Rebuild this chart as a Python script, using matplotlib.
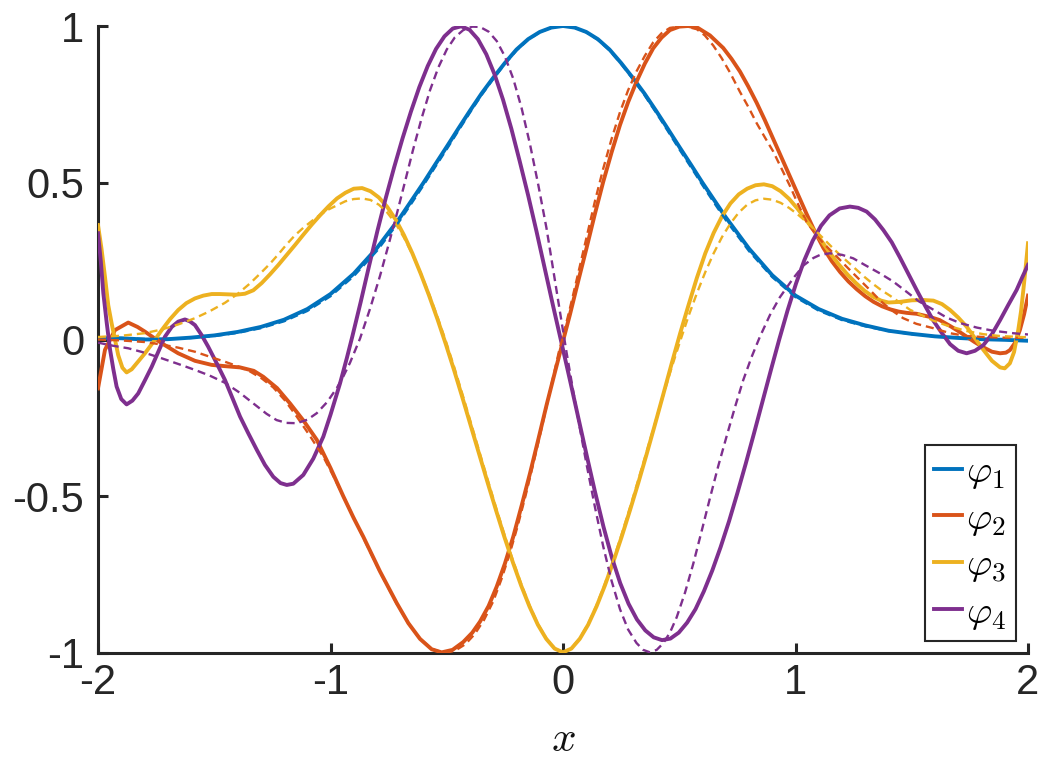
import matplotlib
matplotlib.use('Agg')
import matplotlib.pyplot as plt

plt.rcParams['mathtext.fontset'] = 'cm'
plt.rcParams['font.family'] = ['Liberation Sans', 'DejaVu Sans']

# ---------------- data: (x, value) pairs ----------------
phi1_pts = [(-2.0, 0.004), (-1.9, 0.004), (-1.8, 0.0), (-1.7, 0.001), (-1.6, 0.006), (-1.5, 0.013),
            (-1.4, 0.024), (-1.3, 0.040), (-1.2, 0.063), (-1.1, 0.097), (-1.0, 0.145), (-0.9, 0.21),
            (-0.8, 0.292), (-0.7, 0.39), (-0.65, 0.445), (-0.6, 0.50), (-0.55, 0.558), (-0.5, 0.615),
            (-0.45, 0.673), (-0.4, 0.73), (-0.35, 0.785), (-0.3, 0.835), (-0.25, 0.882), (-0.2, 0.925),
            (-0.15, 0.958), (-0.1, 0.981), (-0.05, 0.995), (0.0, 1.0), (0.05, 0.995), (0.1, 0.981),
            (0.15, 0.958), (0.2, 0.925), (0.25, 0.882), (0.3, 0.835), (0.35, 0.785), (0.4, 0.73),
            (0.45, 0.673), (0.5, 0.615), (0.55, 0.558), (0.6, 0.50), (0.65, 0.445), (0.7, 0.39),
            (0.8, 0.29), (0.9, 0.205), (1.0, 0.14), (1.1, 0.097), (1.2, 0.066), (1.3, 0.045), (1.4, 0.028),
            (1.5, 0.018), (1.6, 0.01), (1.7, 0.005), (1.8, 0.001), (1.9, -0.001), (2.0, -0.004)]

phi1_dash_pts = [(-2.0, 0.006), (-1.9, 0.004), (-1.8, 0.002), (-1.7, 0.002), (-1.6, 0.005), (-1.5, 0.011),
                 (-1.4, 0.021), (-1.3, 0.036), (-1.2, 0.058), (-1.1, 0.091), (-1.0, 0.138), (-0.9, 0.202),
                 (-0.8, 0.283), (-0.7, 0.381), (-0.65, 0.436), (-0.6, 0.492), (-0.55, 0.55), (-0.5, 0.607),
                 (-0.45, 0.666), (-0.4, 0.724), (-0.35, 0.78), (-0.3, 0.831), (-0.25, 0.879), (-0.2, 0.922),
                 (-0.15, 0.956), (-0.1, 0.98), (-0.05, 0.995), (0.0, 1.0), (0.05, 0.995), (0.1, 0.98),
                 (0.15, 0.956), (0.2, 0.922), (0.25, 0.879), (0.3, 0.831), (0.35, 0.78), (0.4, 0.724),
                 (0.45, 0.666), (0.5, 0.607), (0.55, 0.55), (0.6, 0.492), (0.65, 0.436), (0.7, 0.381),
                 (0.8, 0.282), (0.9, 0.199), (1.0, 0.135), (1.1, 0.092), (1.2, 0.062), (1.3, 0.042), (1.4, 0.027),
                 (1.5, 0.017), (1.6, 0.010), (1.7, 0.006), (1.8, 0.003), (1.9, 0.001), (2.0, 0.0)]

phi2_pts = [(-2.0, -0.156), (-1.97, -0.033), (-1.927, 0.03), (-1.87, 0.054), (-1.83, 0.04), (-1.798, 0.025),
            (-1.726, -0.012), (-1.655, -0.044), (-1.583, -0.068), (-1.511, -0.081), (-1.454, -0.085),
            (-1.389, -0.089), (-1.33, -0.10), (-1.289, -0.119), (-1.23, -0.155), (-1.174, -0.204),
            (-1.115, -0.26), (-1.059, -0.32), (-1.0, -0.41), (-0.945, -0.50), (-0.90, -0.57), (-0.859, -0.629),
            (-0.787, -0.74), (-0.715, -0.841), (-0.665, -0.905), (-0.615, -0.955), (-0.565, -0.988),
            (-0.522, -0.998), (-0.475, -0.99), (-0.429, -0.965), (-0.39, -0.935), (-0.357, -0.90), (-0.32, -0.85),
            (-0.285, -0.788), (-0.25, -0.715), (-0.214, -0.629), (-0.178, -0.53), (-0.142, -0.427),
            (-0.106, -0.318), (-0.07, -0.207), (-0.035, -0.105), (0.0, -0.005), (0.03, 0.08), (0.065, 0.185),
            (0.101, 0.291), (0.137, 0.40), (0.173, 0.503), (0.209, 0.597), (0.245, 0.684), (0.28, 0.757),
            (0.316, 0.822), (0.352, 0.88), (0.388, 0.929), (0.424, 0.963), (0.46, 0.987), (0.50, 0.998),
            (0.539, 1.0), (0.58, 0.994), (0.632, 0.97), (0.689, 0.93), (0.725, 0.895), (0.761, 0.855),
            (0.797, 0.807), (0.833, 0.755), (0.868, 0.70), (0.904, 0.64), (0.94, 0.58), (0.976, 0.52),
            (1.012, 0.46), (1.048, 0.40), (1.084, 0.343), (1.12, 0.292), (1.156, 0.25), (1.192, 0.215),
            (1.228, 0.185), (1.264, 0.16), (1.30, 0.138), (1.336, 0.12), (1.372, 0.106), (1.408, 0.096),
            (1.444, 0.089), (1.478, 0.085), (1.521, 0.082), (1.578, 0.072), (1.62, 0.062), (1.665, 0.043),
            (1.70, 0.027), (1.736, 0.009), (1.77, -0.008), (1.808, -0.025), (1.845, -0.039), (1.88, -0.044),
            (1.905, -0.042), (1.922, -0.034), (1.945, -0.01), (1.965, 0.03), (1.983, 0.08), (2.0, 0.14)]

phi2_dash_pts = [(-2.0, 0.0), (-1.9, -0.003), (-1.8, -0.008), (-1.726, -0.016), (-1.655, -0.026),
                 (-1.583, -0.039), (-1.519, -0.055), (-1.454, -0.071), (-1.40, -0.085), (-1.346, -0.102),
                 (-1.296, -0.124), (-1.246, -0.153), (-1.195, -0.195), (-1.145, -0.246), (-1.088, -0.308),
                 (-1.031, -0.374), (-0.988, -0.435), (-0.945, -0.50), (-0.90, -0.568), (-0.859, -0.632),
                 (-0.787, -0.742), (-0.715, -0.843), (-0.665, -0.906), (-0.615, -0.955), (-0.565, -0.987),
                 (-0.51, -1.0), (-0.465, -0.993), (-0.42, -0.972), (-0.38, -0.94), (-0.34, -0.895), (-0.30, -0.835),
                 (-0.265, -0.765), (-0.23, -0.685), (-0.195, -0.595), (-0.16, -0.495), (-0.124, -0.385),
                 (-0.088, -0.27), (-0.053, -0.155), (-0.018, -0.04), (0.0, 0.01), (0.03, 0.10), (0.065, 0.21),
                 (0.101, 0.325), (0.137, 0.44), (0.173, 0.545), (0.209, 0.64), (0.245, 0.725), (0.28, 0.795),
                 (0.316, 0.855), (0.352, 0.905), (0.388, 0.948), (0.424, 0.977), (0.46, 0.994), (0.52, 1.0),
                 (0.575, 0.99), (0.61, 0.97), (0.646, 0.938), (0.682, 0.898), (0.718, 0.852), (0.761, 0.79),
                 (0.797, 0.742), (0.833, 0.69), (0.868, 0.645), (0.904, 0.60), (0.94, 0.545), (0.976, 0.49),
                 (1.012, 0.43), (1.048, 0.375), (1.084, 0.338), (1.12, 0.307), (1.17, 0.27), (1.22, 0.232),
                 (1.27, 0.195), (1.32, 0.158), (1.363, 0.125), (1.41, 0.095), (1.463, 0.068), (1.52, 0.05),
                 (1.593, 0.036), (1.665, 0.02), (1.736, 0.011), (1.808, 0.008), (1.88, 0.006), (2.0, 0.005)]

phi3_pts = [(-2.0, 0.365), (-1.985, 0.29), (-1.97, 0.20), (-1.956, 0.11), (-1.941, 0.05), (-1.927, 0.0),
            (-1.913, -0.05), (-1.895, -0.09), (-1.877, -0.105), (-1.855, -0.095), (-1.827, -0.07),
            (-1.798, -0.044), (-1.762, -0.008), (-1.726, 0.03), (-1.69, 0.065), (-1.655, 0.094), (-1.62, 0.116),
            (-1.583, 0.131), (-1.547, 0.14), (-1.511, 0.145), (-1.476, 0.145), (-1.44, 0.144), (-1.404, 0.143),
            (-1.368, 0.146), (-1.332, 0.157), (-1.296, 0.18), (-1.26, 0.208), (-1.224, 0.238), (-1.188, 0.27),
            (-1.152, 0.302), (-1.116, 0.335), (-1.08, 0.367), (-1.044, 0.397), (-1.008, 0.425), (-0.972, 0.45),
            (-0.936, 0.468), (-0.9, 0.481), (-0.864, 0.483), (-0.828, 0.473), (-0.792, 0.453), (-0.756, 0.423),
            (-0.72, 0.383), (-0.684, 0.333), (-0.648, 0.275), (-0.612, 0.21), (-0.576, 0.14), (-0.54, 0.065),
            (-0.504, -0.015), (-0.468, -0.099), (-0.432, -0.187), (-0.396, -0.277), (-0.36, -0.367),
            (-0.324, -0.457), (-0.288, -0.545), (-0.252, -0.63), (-0.216, -0.71), (-0.18, -0.785),
            (-0.144, -0.852), (-0.108, -0.91), (-0.072, -0.955), (-0.036, -0.986), (0.0, -0.998),
            (0.036, -0.986), (0.072, -0.955), (0.108, -0.91), (0.144, -0.852), (0.18, -0.785), (0.216, -0.71),
            (0.252, -0.63), (0.288, -0.545), (0.324, -0.457), (0.36, -0.365), (0.396, -0.27), (0.432, -0.173),
            (0.468, -0.075), (0.504, 0.02), (0.54, 0.11), (0.576, 0.197), (0.612, 0.275), (0.648, 0.34),
            (0.684, 0.393), (0.72, 0.434), (0.756, 0.463), (0.792, 0.481), (0.828, 0.492), (0.864, 0.495),
            (0.9, 0.489), (0.936, 0.473), (0.972, 0.449), (1.008, 0.418), (1.044, 0.383), (1.08, 0.347),
            (1.116, 0.31), (1.152, 0.272), (1.188, 0.238), (1.224, 0.207), (1.26, 0.18), (1.296, 0.156),
            (1.332, 0.137), (1.368, 0.124), (1.40, 0.118), (1.449, 0.12), (1.50, 0.125), (1.55, 0.126),
            (1.593, 0.124), (1.63, 0.113), (1.665, 0.094), (1.70, 0.07), (1.736, 0.041), (1.772, 0.004),
            (1.808, -0.033), (1.845, -0.068), (1.88, -0.089), (1.90, -0.092), (1.922, -0.076), (1.94, -0.04),
            (1.958, 0.03), (1.97, 0.09), (1.98, 0.158), (1.99, 0.23), (2.0, 0.307)]

phi3_dash_pts = [(-2.0, 0.008), (-1.9, 0.012), (-1.8, 0.02), (-1.726, 0.032), (-1.655, 0.048), (-1.583, 0.068),
                 (-1.52, 0.09), (-1.454, 0.117), (-1.40, 0.145), (-1.346, 0.179), (-1.296, 0.215), (-1.26, 0.242),
                 (-1.224, 0.272), (-1.188, 0.304), (-1.152, 0.333), (-1.116, 0.357), (-1.08, 0.378),
                 (-1.044, 0.398), (-1.008, 0.415), (-0.972, 0.428), (-0.936, 0.441), (-0.9, 0.448),
                 (-0.864, 0.45), (-0.828, 0.445), (-0.792, 0.43), (-0.756, 0.405), (-0.72, 0.37), (-0.684, 0.325),
                 (-0.648, 0.272), (-0.612, 0.212), (-0.576, 0.145), (-0.54, 0.072), (-0.504, -0.005),
                 (-0.468, -0.088), (-0.432, -0.176), (-0.396, -0.266), (-0.36, -0.357), (-0.324, -0.447),
                 (-0.288, -0.536), (-0.252, -0.622), (-0.216, -0.703), (-0.18, -0.779), (-0.144, -0.848),
                 (-0.108, -0.907), (-0.072, -0.953), (-0.036, -0.985), (0.0, -0.998), (0.036, -0.985),
                 (0.072, -0.953), (0.108, -0.907), (0.144, -0.848), (0.18, -0.779), (0.216, -0.703),
                 (0.252, -0.622), (0.288, -0.536), (0.324, -0.447), (0.36, -0.357), (0.396, -0.266),
                 (0.432, -0.176), (0.468, -0.088), (0.504, -0.005), (0.54, 0.075), (0.576, 0.148), (0.612, 0.215),
                 (0.648, 0.275), (0.684, 0.327), (0.72, 0.37), (0.756, 0.405), (0.792, 0.43), (0.828, 0.444),
                 (0.864, 0.449), (0.9, 0.446), (0.936, 0.436), (0.972, 0.42), (1.008, 0.40), (1.044, 0.377),
                 (1.08, 0.352), (1.116, 0.325), (1.152, 0.298), (1.188, 0.272), (1.224, 0.248), (1.26, 0.224),
                 (1.296, 0.20), (1.332, 0.178), (1.368, 0.158), (1.406, 0.14), (1.45, 0.117), (1.492, 0.095),
                 (1.55, 0.075), (1.593, 0.06), (1.65, 0.045), (1.736, 0.027), (1.808, 0.017), (1.88, 0.011),
                 (2.0, 0.007)]

phi4_pts = [(-2.0, 0.339), (-1.988, 0.25), (-1.977, 0.147), (-1.962, 0.05), (-1.948, -0.033), (-1.934, -0.095),
            (-1.92, -0.15), (-1.90, -0.19), (-1.877, -0.207), (-1.852, -0.195), (-1.827, -0.172), (-1.798, -0.13),
            (-1.769, -0.087), (-1.74, -0.038), (-1.712, 0.009), (-1.683, 0.04), (-1.655, 0.057), (-1.626, 0.064),
            (-1.605, 0.058), (-1.583, 0.046), (-1.555, 0.015), (-1.526, -0.023), (-1.49, -0.075), (-1.454, -0.129),
            (-1.42, -0.19), (-1.389, -0.246), (-1.353, -0.30), (-1.317, -0.352), (-1.282, -0.40), (-1.246, -0.438),
            (-1.215, -0.458), (-1.188, -0.464), (-1.16, -0.46), (-1.117, -0.432), (-1.074, -0.38), (-1.031, -0.31),
            (-1.0, -0.24), (-0.959, -0.14), (-0.93, -0.06), (-0.906, 0.01), (-0.87, 0.12), (-0.834, 0.235),
            (-0.798, 0.347), (-0.762, 0.452), (-0.726, 0.55), (-0.69, 0.642), (-0.654, 0.727), (-0.618, 0.805),
            (-0.582, 0.872), (-0.546, 0.927), (-0.51, 0.967), (-0.474, 0.992), (-0.438, 0.999), (-0.402, 0.988),
            (-0.366, 0.958), (-0.33, 0.91), (-0.294, 0.845), (-0.258, 0.765), (-0.222, 0.672), (-0.186, 0.568),
            (-0.15, 0.46), (-0.114, 0.345), (-0.078, 0.225), (-0.042, 0.105), (-0.006, -0.012), (0.03, -0.13),
            (0.066, -0.25), (0.102, -0.37), (0.138, -0.487), (0.174, -0.597), (0.21, -0.695), (0.246, -0.777),
            (0.282, -0.843), (0.318, -0.893), (0.354, -0.928), (0.39, -0.95), (0.426, -0.959), (0.462, -0.954),
            (0.498, -0.935), (0.534, -0.903), (0.57, -0.86), (0.606, -0.803), (0.642, -0.737), (0.678, -0.662),
            (0.714, -0.58), (0.75, -0.49), (0.786, -0.396), (0.822, -0.298), (0.858, -0.198), (0.894, -0.098),
            (0.93, 0.0), (0.966, 0.093), (1.002, 0.178), (1.038, 0.253), (1.074, 0.315), (1.11, 0.363),
            (1.146, 0.396), (1.19, 0.418), (1.234, 0.424), (1.27, 0.42), (1.306, 0.408), (1.342, 0.383),
            (1.378, 0.349), (1.414, 0.31), (1.449, 0.262), (1.485, 0.21), (1.521, 0.158), (1.557, 0.108),
            (1.593, 0.06), (1.63, 0.02), (1.665, -0.015), (1.70, -0.036), (1.736, -0.044), (1.772, -0.036),
            (1.808, -0.018), (1.845, 0.017), (1.88, 0.062), (1.915, 0.11), (1.951, 0.158), (1.975, 0.198),
            (2.0, 0.238)]

phi4_dash_pts = [(-2.0, -0.01), (-1.935, -0.02), (-1.87, -0.028), (-1.8, -0.042), (-1.726, -0.06), (-1.655, -0.078),
                 (-1.583, -0.097), (-1.52, -0.115), (-1.454, -0.138), (-1.39, -0.17), (-1.318, -0.212),
                 (-1.275, -0.237), (-1.232, -0.257), (-1.19, -0.266), (-1.145, -0.267), (-1.10, -0.256),
                 (-1.059, -0.235), (-1.015, -0.2), (-0.973, -0.155), (-0.945, -0.118), (-0.916, -0.074),
                 (-0.873, 0.003), (-0.83, 0.098), (-0.787, 0.203), (-0.75, 0.303), (-0.716, 0.397), (-0.68, 0.502),
                 (-0.645, 0.605), (-0.608, 0.706), (-0.572, 0.795), (-0.536, 0.868), (-0.50, 0.925), (-0.465, 0.964),
                 (-0.429, 0.987), (-0.39, 0.998), (-0.357, 0.997), (-0.32, 0.982), (-0.285, 0.952), (-0.25, 0.903),
                 (-0.214, 0.832), (-0.178, 0.738), (-0.142, 0.623), (-0.106, 0.492), (-0.071, 0.355),
                 (-0.042, 0.222), (-0.013, 0.088), (0.015, -0.04), (0.044, -0.165), (0.073, -0.285), (0.101, -0.397),
                 (0.137, -0.533), (0.173, -0.66), (0.209, -0.77), (0.245, -0.86), (0.28, -0.925), (0.316, -0.968),
                 (0.345, -0.99), (0.374, -0.998), (0.403, -0.99), (0.431, -0.969), (0.46, -0.935), (0.489, -0.886),
                 (0.525, -0.807), (0.56, -0.716), (0.596, -0.612), (0.632, -0.506), (0.668, -0.403),
                 (0.704, -0.308), (0.74, -0.215), (0.775, -0.13), (0.811, -0.056), (0.847, 0.009), (0.89, 0.078),
                 (0.933, 0.135), (0.99, 0.195), (1.034, 0.236), (1.077, 0.26), (1.106, 0.27), (1.148, 0.275),
                 (1.20, 0.27), (1.248, 0.259), (1.30, 0.237), (1.363, 0.211), (1.42, 0.185), (1.478, 0.152),
                 (1.53, 0.122), (1.593, 0.095), (1.65, 0.07), (1.71, 0.052), (1.78, 0.038), (1.85, 0.028),
                 (1.937, 0.02), (2.0, 0.016)]

labels = [r'$\varphi_1$', r'$\varphi_2$', r'$\varphi_3$', r'$\varphi_4$']
colors = ['#0072BD', '#D95319', '#EDB120', '#7E2F8E']
xtick_vals = [-2, -1, 0, 1, 2]
xtick_labels = ['-2', '-1', '0', '1', '2']
ytick_vals = [-1, -0.5, 0, 0.5, 1]
ytick_labels = ['-1', '-0.5', '0', '0.5', '1']

# ---------------- figure ----------------
W, H = 1047, 761
fig = plt.figure(figsize=(W / 100, H / 100), dpi=100)
ax = fig.add_axes([98 / W, 1 - 653 / H, 930 / W, 627 / H])

solid = [phi1_pts, phi2_pts, phi3_pts, phi4_pts]
dashed = [phi1_dash_pts, phi2_dash_pts, phi3_dash_pts, phi4_dash_pts]

handles = []
for pts, c, lab in zip(solid, colors, labels):
    xs, ys = zip(*pts)
    h, = ax.plot(xs, ys, color=c, lw=2.8, label=lab, zorder=3, solid_joinstyle='round')
    handles.append(h)
for pts, c in zip(dashed, colors):
    xs, ys = zip(*pts)
    ax.plot(xs, ys, color=c, lw=1.7, linestyle=(0, (3.4, 2.1)), zorder=3)

ax.set_xlim(-2, 2)
ax.set_ylim(-1, 1)
ax.set_xticks(xtick_vals)
ax.set_xticklabels(xtick_labels)
ax.set_yticks(ytick_vals)
ax.set_yticklabels(ytick_labels)

dark = '#262626'
for s in ['top', 'right']:
    ax.spines[s].set_visible(False)
for s in ['left', 'bottom']:
    ax.spines[s].set_color(dark)
    ax.spines[s].set_linewidth(2.2)
ax.tick_params(direction='in', length=7.5, width=2.2, color=dark, labelcolor=dark, labelsize=30)
ax.tick_params(axis='y', pad=10)
ax.tick_params(axis='x', pad=7)

ax.set_xlabel(r'$x$', fontsize=31, color='#111111')
ax.xaxis.set_label_coords(0.5, -(740 - 653) / 627)
ax.xaxis.label.set_va('center')

leg = ax.legend(handles=handles, loc='lower right', fontsize=28, frameon=True, fancybox=False,
                edgecolor=dark, framealpha=1, handlelength=0.7, handletextpad=0.12,
                borderpad=0.25, labelspacing=0.25, borderaxespad=0.3)
leg.get_frame().set_linewidth(1.5)

fig.savefig('out.png', dpi=100)
